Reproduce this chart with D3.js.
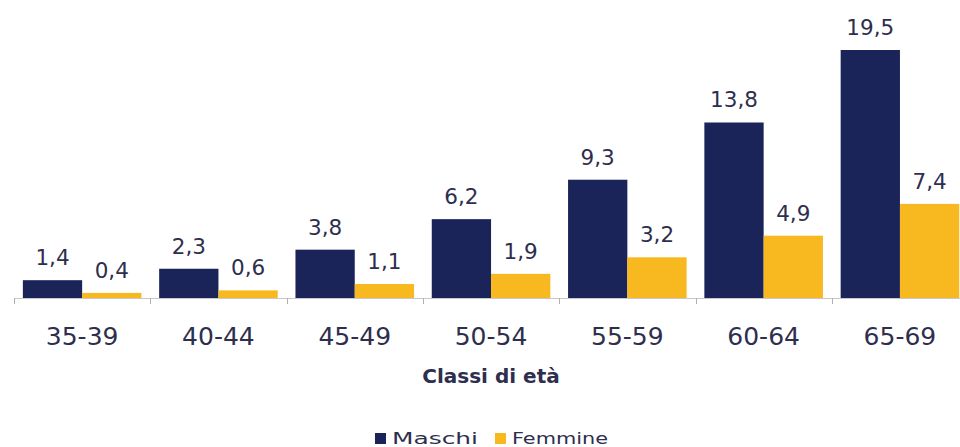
<!DOCTYPE html>
<html><head><meta charset="utf-8">
<script src="https://cdn.jsdelivr.net/npm/d3@7"></script>
<style>body{margin:0;background:#fff;} text{font-family:"DejaVu Sans",Verdana,sans-serif;}</style>
</head><body>
<svg id="c" width="960" height="447"></svg>
<script>
const categories = ["35-39","40-44","45-49","50-54","55-59","60-64","65-69"];
const series = ["Maschi","Femmine"];
const maschi = [1.4,2.3,3.8,6.2,9.3,13.8,19.5];
const femmine = [0.4,0.6,1.1,1.9,3.2,4.9,7.4];
const colors = ["#1a2459","#f8b920"];
const xTitle = "Classi di età";

const svg = d3.select("#c");
const baseY = 298, left = 14, step = 136.3;
const x = d3.scaleBand().domain(categories).range([left, left + step*categories.length]).paddingInner(0.13).paddingOuter(0.065);
const xs = d3.scaleBand().domain(series).range([0, x.bandwidth()]);
const y = d3.scaleLinear().domain([0, 19.5]).range([baseY, 50]);
const data = [maschi, femmine];
const fmt = v => d3.format(".1f")(v).replace(".", ",");

const g = svg.append("g");
categories.forEach((c, i) => {
  series.forEach((s, j) => {
    const v = data[j][i];
    g.append("rect").attr("x", x(c) + xs(s)).attr("y", y(v))
      .attr("width", xs.bandwidth()).attr("height", baseY - y(v)).attr("fill", colors[j]);
    g.append("text").attr("x", x(c) + xs(s) + xs.bandwidth()/2).attr("y", y(v) - 15)
      .attr("text-anchor", "middle").attr("font-size", 21.5).attr("fill", "#2e2e4e").text(fmt(v));
  });
});

// axis
const ax = svg.append("g");
ax.append("line").attr("x1", left).attr("x2", left + step*categories.length).attr("y1", baseY+0.5).attr("y2", baseY+0.5).attr("stroke", "#c8c8c8");
d3.range(categories.length + 1).forEach(i => {
  const xx = Math.round(left + step*i) + 0.5;
  ax.append("line").attr("x1", xx).attr("x2", xx).attr("y1", baseY).attr("y2", baseY+6).attr("stroke", "#b0b0b0");
});
categories.forEach(c => {
  ax.append("text").attr("x", x(c) + x.bandwidth()/2).attr("y", 345).attr("text-anchor", "middle")
    .attr("font-size", 25).attr("fill", "#2e2e4e").text(c);
});
svg.append("text").attr("x", 491).attr("y", 383).attr("text-anchor", "middle").attr("font-size", 20)
  .attr("font-weight", "bold").attr("fill", "#2e2e4e").text(xTitle);

// legend
const lg = svg.append("g");
const lx = [375, 495];
const lw = [86, 96];
series.forEach((s, j) => {
  lg.append("rect").attr("x", lx[j]).attr("y", 433).attr("width", 11).attr("height", 11).attr("fill", colors[j]);
  lg.append("text").attr("x", lx[j] + 17).attr("y", 444).attr("font-size", 16)
    .attr("textLength", lw[j]).attr("lengthAdjust", "spacingAndGlyphs")
    .attr("fill", "#2e2e4e").text(s);
});
</script>
</body></html>
